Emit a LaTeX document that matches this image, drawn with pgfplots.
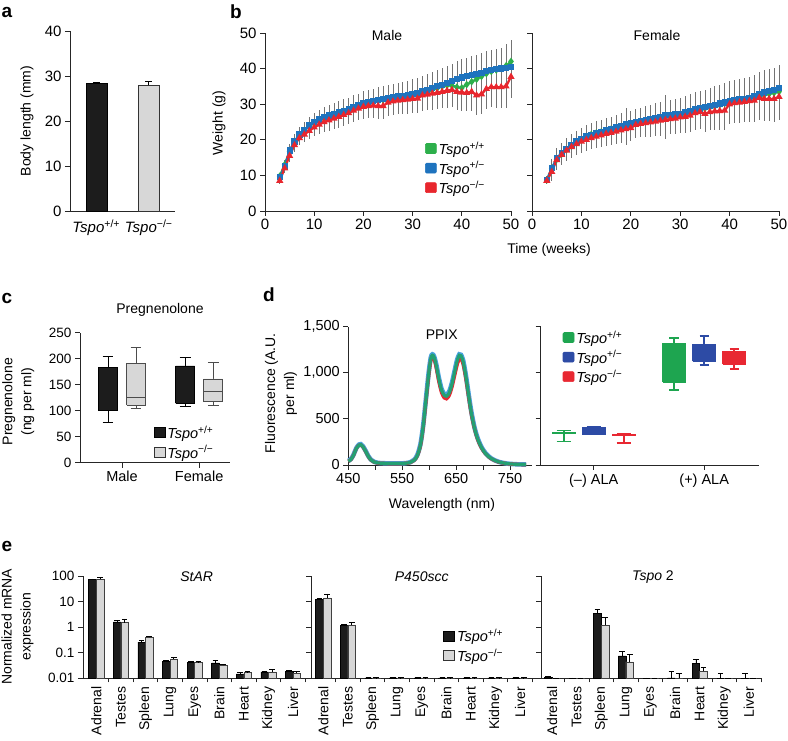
\documentclass[border=0pt]{standalone}
\usepackage{fontspec}
\setmainfont{Liberation Sans}
\usepackage{pgfplots}
\pgfplotsset{compat=1.18}
\usepackage{pgfplotstable}

\definecolor{gM}{RGB}{45,175,75}
\definecolor{bM}{RGB}{30,115,190}
\definecolor{rM}{RGB}{232,38,45}
\definecolor{gD}{RGB}{30,165,80}
\definecolor{bD}{RGB}{45,75,165}
\definecolor{rD}{RGB}{232,40,50}
\definecolor{specT}{RGB}{35,160,115}
\definecolor{specB}{RGB}{70,160,220}
\definecolor{lgray}{RGB}{215,215,215}
\definecolor{dblack}{RGB}{28,28,28}

\pgfplotstableread{
w  g     b     r     e
3  9.8   9.5   8.5   1.0
4  13.0  12.5  12.0  1.3
5  16.8  17.0  15.5  1.8
6  19.5  19.5  18.5  2.0
7  21.3  21.5  20.5  2.0
8  22.6  22.8  21.5  2.2
9  23.8  24.0  22.5  2.4
10 24.7  25.0  23.5  2.5
11 25.4  25.7  24.3  2.6
12 26.0  26.3  25.0  2.8
13 26.6  26.8  25.5  2.9
14 27.1  27.3  26.0  3.0
15 27.6  27.8  26.5  3.1
16 28.0  28.2  27.0  3.2
17 28.5  28.6  27.5  3.2
18 29.0  29.2  28.2  3.3
19 29.5  29.7  28.8  3.3
20 30.0  30.2  29.3  3.4
21 30.3  30.6  29.5  3.5
22 30.6  30.9  29.6  3.5
23 30.9  31.2  29.5  3.6
24 31.2  31.5  29.5  3.6
25 31.4  31.8  30.5  3.7
26 31.6  32.0  30.8  3.8
27 31.8  32.2  31.0  3.8
28 32.0  32.4  31.2  3.9
29 32.2  32.6  31.3  4.0
30 32.4  32.9  31.5  4.1
31 32.7  33.2  31.6  4.2
32 33.1  33.6  32.5  4.3
33 33.5  34.0  32.7  4.4
34 34.0  34.5  33.0  4.5
35 34.5  35.0  33.2  4.6
36 35.0  35.5  33.5  4.7
37 35.3  36.0  33.8  4.8
38 35.2  36.5  34.0  4.9
39 34.8  37.0  33.5  5.0
40 34.6  37.5  33.3  5.1
41 35.5  37.9  33.2  5.2
42 36.3  38.2  33.5  5.3
43 37.0  38.5  32.5  5.4
44 37.8  38.8  32.8  5.5
45 38.6  39.3  34.3  5.6
46 39.2  39.6  34.8  5.7
47 39.6  39.8  34.8  5.8
48 40.0  40.0  34.8  5.9
49 40.8  40.2  35.0  6.0
50 42.0  40.4  37.7  6.0
}\maleT

\pgfplotstableread{
w  g     b     r     e
3  8.7   8.7   8.5   1.0
4  12.0  12.0  11.0  2.5
5  14.5  14.8  14.3  2.8
6  16.0  16.3  15.8  2.9
7  17.3  17.5  17.0  3.0
8  18.3  18.5  18.0  3.0
9  19.2  19.5  18.8  3.1
10 20.0  20.3  19.5  3.1
11 20.7  20.9  20.0  3.2
12 21.5  21.4  20.5  3.2
13 21.9  21.8  20.9  3.3
14 22.2  22.2  21.3  3.3
15 22.6  22.7  21.7  3.4
16 23.0  23.1  22.0  3.4
17 23.3  23.5  22.3  3.5
18 23.7  23.9  22.7  3.5
19 24.0  24.3  23.0  4.5
20 24.3  24.6  23.3  3.6
21 24.6  24.9  24.2  3.7
22 24.9  25.2  24.5  3.8
23 25.2  25.5  24.7  3.9
24 25.5  25.8  24.9  4.0
25 25.8  26.1  25.1  4.1
26 26.0  26.4  25.4  4.2
27 26.3  27.0  25.6  5.5
28 26.5  27.0  25.8  4.3
29 26.8  27.1  26.0  4.4
30 27.0  27.3  26.3  4.5
31 27.3  27.7  26.5  4.6
32 27.6  28.2  26.8  4.7
33 28.0  28.5  27.5  4.8
34 28.5  28.8  27.8  4.9
35 28.8  29.1  27.3  5.0
36 29.1  29.5  27.8  5.1
37 29.4  29.8  28.0  5.2
38 29.8  30.2  28.1  5.3
39 30.2  30.5  28.2  5.4
40 30.6  30.9  30.0  5.5
41 30.9  31.1  30.3  5.6
42 31.1  31.3  30.5  5.7
43 31.3  31.5  30.7  5.8
44 31.5  31.8  30.9  5.9
45 31.8  32.3  31.0  6.0
46 32.2  32.9  31.8  6.1
47 32.6  33.3  31.5  6.2
48 32.9  33.6  31.5  6.3
49 33.2  33.9  31.5  6.4
50 33.5  34.5  32.1  6.5
}\femaleT

\newcommand{\tpp}{\textit{Tspo}\textsuperscript{+/+}}
\newcommand{\tpm}{\textit{Tspo}\textsuperscript{+/−}}
\newcommand{\tmm}{\textit{Tspo}\textsuperscript{−/−}}

% box with whiskers: #1 fill, #2 draw, #3 position, #4 half box width, #5 half cap width,
% #6 lower whisker, #7 lower quartile, #8 upper quartile, #9 upper whisker
\newcommand{\bxp}[9]{%
 \pgfmathsetmacro\bxa{#3-#4}\pgfmathsetmacro\bxb{#3+#4}%
 \pgfmathsetmacro\cxa{#3-#5}\pgfmathsetmacro\cxb{#3+#5}%
 \edef\tmp{%
 \noexpand\addplot[forget plot, draw=#2, line width=\noexpand\wlw] coordinates {(#3,#6)(#3,#9)};
 \noexpand\addplot[forget plot, draw=#2, line width=\noexpand\wlw] coordinates {(\cxa,#6)(\cxb,#6)};
 \noexpand\addplot[forget plot, draw=#2, line width=\noexpand\wlw] coordinates {(\cxa,#9)(\cxb,#9)};
 \noexpand\addplot[forget plot, fill=#1, draw=#2, line width=\noexpand\blw] coordinates {(\bxa,#7)(\bxb,#7)(\bxb,#8)(\bxa,#8)(\bxa,#7)};
 }\tmp}
% median line: #1 draw, #2 pos, #3 half width, #4 value
\newcommand{\medl}[4]{%
 \pgfmathsetmacro\bxa{#2-#3}\pgfmathsetmacro\bxb{#2+#3}%
 \edef\tmp{\noexpand\addplot[forget plot, draw=#1, line width=\noexpand\blw] coordinates {(\bxa,#4)(\bxb,#4)};}\tmp}

\pgfplotsset{
  every axis/.append style={
    scale only axis, anchor=south west, clip=false,
    axis lines*=left, axis line style={-, line width=0.9pt, black!85},
    tick style={line width=0.9pt, black!85}, tick align=outside,
    major tick length=5pt, minor tick length=4pt,
    tick label style={font=\fontsize{14}{16}\selectfont},
    /pgf/number format/assume math mode=true,
    legend cell align=left,
  },
  sqleg/.style={legend image code/.code={\draw[##1,line width=0.6pt] (0pt,-4.5pt) rectangle (11pt,5.5pt);}},
  legst/.style={legend style={at={#1}, anchor=north west, draw=none, fill=none, inner sep=0pt, row sep=1.5pt, font=\fontsize{14.5}{16}\selectfont}},
  wline/.style={forget plot, line width=2.2pt, mark size=2pt,
     error bars/y dir=both, error bars/y explicit, error bars/error mark=none,
     error bars/error bar style={line width=0.65pt, black!55}},
  eblk/.style={forget plot, bar shift=-3.8pt, fill=dblack, draw=black, line width=0.5pt,
    error bars/y dir=plus, error bars/y explicit, error bars/error bar style={line width=0.8pt,black},
    error bars/error mark options={rotate=90, mark size=2.8pt, line width=0.8pt}},
  egry/.style={forget plot, bar shift=3.8pt, fill=lgray, draw=black!75, line width=0.5pt,
    error bars/y dir=plus, error bars/y explicit, error bars/error bar style={line width=0.8pt,black},
    error bars/error mark options={rotate=90, mark size=2.8pt, line width=0.8pt}},
}

\begin{document}
\begin{tikzpicture}
\useasboundingbox (0pt,0pt) rectangle (788pt,741pt);
\tikzset{lab/.style={font=\fontsize{14}{19}\selectfont, align=center}, pl/.style={font=\fontsize{19}{19}\selectfont\bfseries}}

% ---------- a ----------
\begin{axis}[at={(70pt,530pt)}, width=105pt, height=180pt,
  xmin=0.5, xmax=2.5, ymin=0, ymax=40, ytick={0,10,20,30,40},
  xtick={1,2}, xticklabels={\tpp,\tmm}, x tick style={draw=none},
  tick label style={font=\fontsize{15}{17}\selectfont}, ybar, bar width=21pt]
\addplot[bar shift=0pt, fill=dblack, draw=black, error bars/y dir=plus, error bars/y explicit,
  error bars/error bar style={line width=0.9pt,black}, error bars/error mark options={rotate=90,mark size=3.5pt,line width=0.9pt}]
  coordinates {(1,28.3) +- (0,0.35)};
\addplot[bar shift=0pt, fill=lgray, draw=black!80, line width=0.8pt, error bars/y dir=plus, error bars/y explicit,
  error bars/error bar style={line width=0.9pt,black}, error bars/error mark options={rotate=90,mark size=3.5pt,line width=0.9pt}]
  coordinates {(2,27.9) +- (0,0.8)};
\end{axis}

% ---------- b male ----------
\begin{axis}[at={(265pt,530pt)}, width=246pt, height=178pt,
  xmin=0, xmax=50, ymin=0, ymax=50, xtick={0,10,...,50}, ytick={0,10,...,50},
  tick label style={font=\fontsize{15}{17}\selectfont},
  sqleg, legst={(0.65,0.40)}]
\addplot[wline, color=gM, mark=diamond*] table[x=w,y=g,y error=e] {\maleT};
\addplot[wline, color=bM, mark=square*] table[x=w,y=b,y error=e] {\maleT};
\addplot[wline, color=rM, mark=triangle*] table[x=w,y=r,y error=e] {\maleT};
\addlegendimage{fill=gM, draw=gM, rounded corners=1.2pt}\addlegendentry{\tpp}
\addlegendimage{fill=bM, draw=bM, rounded corners=1.2pt}\addlegendentry{\tpm}
\addlegendimage{fill=rM, draw=rM, rounded corners=1.2pt}\addlegendentry{\tmm}
\end{axis}

% ---------- b female ----------
\begin{axis}[at={(532pt,530pt)}, width=247pt, height=178pt,
  xmin=0, xmax=50, ymin=0, ymax=50, xtick={0,10,...,50}, ytick={0,10,...,50}, yticklabels={},
  tick label style={font=\fontsize{15}{17}\selectfont}]
\addplot[wline, color=gM, mark=diamond*] table[x=w,y=g,y error=e] {\femaleT};
\addplot[wline, color=bM, mark=square*] table[x=w,y=b,y error=e] {\femaleT};
\addplot[wline, color=rM, mark=triangle*] table[x=w,y=r,y error=e] {\femaleT};
\end{axis}

% ---------- c ----------
\begin{axis}[at={(80pt,278.3pt)}, width=150pt, height=130pt,
  xmin=0.455, xmax=2.40, ymin=0, ymax=250, ytick={0,50,...,250},
  xtick={1,2}, xticklabels={Male,Female},
  tick label style={font=\fontsize{13.5}{15}\selectfont},
  x tick label style={font=\fontsize{14.5}{16}\selectfont},
  sqleg, legst={(0.49,0.30)}]
\def\wlw{0.9pt}\def\blw{0.8pt}
\bxp{dblack}{black}{0.818}{0.1235}{0.07}{77.6}{100}{183}{204}
\bxp{lgray}{black!70}{1.182}{0.1235}{0.07}{104}{111}{191}{222}
\medl{black!70}{1.182}{0.1235}{126}
\bxp{dblack}{black}{1.818}{0.1235}{0.07}{108}{114}{186}{202}
\bxp{lgray}{black!70}{2.182}{0.1235}{0.07}{111}{117}{161}{192}
\medl{black!70}{2.182}{0.1235}{137}
\addlegendimage{fill=dblack, draw=black}\addlegendentry{\tpp}
\addlegendimage{fill=lgray, draw=black!80}\addlegendentry{\tmm}
\end{axis}

% ---------- d spectrum ----------
\begin{axis}[at={(348.3pt,276pt)}, width=183.3pt, height=138.3pt,
  xmin=450, xmax=790, ymin=0, ymax=1500,
  xtick={450,500,...,750}, xticklabels={450,,550,,650,,750},
  ytick={0,500,1000,1500}, yticklabels={0,500,{1,000},{1,500}},
  tick label style={font=\fontsize{14.5}{16}\selectfont}]
\addplot[forget plot, smooth, specB, line width=4.6pt] coordinates {
(450,45)(455,65)(460,115)(465,185)(470,222)(473,226)(477,205)(482,155)(487,98)(492,58)(498,34)(505,23)(520,18)(540,17)(555,19)(565,30)(572,55)(578,108)(584,230)(589,435)(594,715)(599,995)(603,1165)(606,1200)(609,1180)(613,1095)(618,945)(623,825)(628,770)(632,760)(637,795)(642,885)(647,1015)(652,1145)(656,1200)(659,1195)(663,1135)(668,975)(673,775)(678,585)(684,410)(690,290)(697,195)(705,125)(715,72)(728,36)(745,15)(765,7)(780,5)};
\addplot[forget plot, smooth, rD, line width=3.4pt] coordinates {
(450,40)(455,60)(460,110)(465,180)(470,214)(473,218)(477,198)(482,148)(487,94)(492,54)(498,31)(505,21)(520,16)(540,15)(555,17)(565,27)(572,49)(578,98)(584,215)(589,410)(594,690)(599,965)(603,1135)(606,1175)(609,1155)(613,1060)(618,905)(623,785)(628,728)(632,718)(637,752)(642,840)(647,965)(652,1090)(656,1150)(659,1148)(663,1095)(668,940)(673,745)(678,560)(684,395)(690,275)(697,185)(705,118)(715,68)(728,34)(745,14)(765,6)(780,4)};
\addplot[forget plot, smooth, specT, line width=3.2pt] coordinates {
(450,40)(455,60)(460,110)(465,180)(470,215)(473,220)(477,200)(482,150)(487,95)(492,55)(498,32)(505,22)(520,17)(540,16)(555,18)(565,28)(572,50)(578,100)(584,220)(589,420)(594,700)(599,980)(603,1150)(606,1190)(609,1170)(613,1080)(618,930)(623,810)(628,755)(632,745)(637,780)(642,870)(647,1000)(652,1130)(656,1190)(659,1185)(663,1120)(668,960)(673,760)(678,570)(684,400)(690,280)(697,190)(705,120)(715,70)(728,35)(745,15)(765,6)(780,4)};
\end{axis}

% ---------- d boxes ----------
\begin{axis}[at={(540.7pt,276pt)}, width=218.3pt, height=138.3pt,
  xmin=0.52, xmax=2.496, ymin=0, ymax=1500,
  ytick={0,500,1000,1500}, yticklabels={},
  xtick={1,2}, xticklabels={(–) ALA,(+) ALA},
  x tick label style={font=\fontsize{14.5}{16}\selectfont},
  sqleg, legst={(0.10,0.985)}]
\def\wlw{1.8pt}\def\blw{1.2pt}
\bxp{gD}{gD}{0.728}{0.104}{0.065}{254}{340}{352}{374}
\bxp{bD}{bD}{1}{0.104}{0.065}{332}{336}{405}{408}
\bxp{rD}{rD}{1.272}{0.104}{0.065}{236}{326}{334}{336}
\bxp{gD}{gD}{1.728}{0.104}{0.0425}{817}{901}{1318}{1380}
\bxp{bD}{bD}{2}{0.104}{0.0425}{1086}{1126}{1307}{1398}
\bxp{rD}{rD}{2.272}{0.104}{0.0425}{1042}{1093}{1231}{1260}
\addlegendimage{fill=gD, draw=gD, rounded corners=1.2pt}\addlegendentry{\tpp}
\addlegendimage{fill=bD, draw=bD, rounded corners=1.2pt}\addlegendentry{\tpm}
\addlegendimage{fill=rD, draw=rD, rounded corners=1.2pt}\addlegendentry{\tmm}
\end{axis}

% ---------- e ----------
\begin{axis}[at={(83pt,62.7pt)}, width=228pt, height=102.3pt, xmin=0.46, xmax=9.728,
    ymode=log, log origin y=infty, ymin=0.01, ymax=100, ytick={0.01,0.1,1,10,100},
    yticklabels={0.01,0.1,1,10,100}, minor y tick style={draw=none},
    tick label style={font=\fontsize{13.5}{15}\selectfont},
    xtick={1,...,9}, xticklabels={Adrenal,Testes,Spleen,Lung,Eyes,Brain,Heart,Kidney,Liver},
    major x tick style={draw=none}, minor xtick={1.5,2.5,...,9.5},
    x tick label style={rotate=90, anchor=east, font=\fontsize{14}{16}\selectfont},
    ybar, bar width=7.6pt]
\addplot[eblk] coordinates {(1,73)+-(0,4) (2,1.62)+-(0,0.15) (3,0.26)+-(0,0.03) (4,0.047)+-(0,0.003) (5,0.041)+-(0,0.003) (6,0.040)+-(0,0.008) (7,0.015)+-(0,0.002) (8,0.018)+-(0,0.001) (9,0.019)+-(0,0.002)};
\addplot[egry] coordinates {(1,76)+-(0,15) (2,1.5)+-(0,0.6) (3,0.40)+-(0,0.04) (4,0.058)+-(0,0.006) (5,0.042)+-(0,0.003) (6,0.032)+-(0,0.004) (7,0.017)+-(0,0.001) (8,0.018)+-(0,0.004) (9,0.016)+-(0,0.003)};
\end{axis}

\begin{axis}[at={(311pt,62.7pt)}, width=230pt, height=102.3pt, xmin=0.5, xmax=9.85,
    ymode=log, log origin y=infty, ymin=0.01, ymax=100, ytick={0.01,0.1,1,10,100},
    yticklabels={}, minor y tick style={draw=none},
    xtick={1,...,9}, xticklabels={Adrenal,Testes,Spleen,Lung,Eyes,Brain,Heart,Kidney,Liver},
    major x tick style={draw=none}, minor xtick={1.5,2.5,...,9.5},
    x tick label style={rotate=90, anchor=east, font=\fontsize{14}{16}\selectfont},
    ybar, bar width=7.6pt, sqleg, legst={(0.575,0.50)}]
\addplot[eblk] coordinates {(1,12.3)+-(0,1.0) (2,1.15)+-(0,0.08) (3,0.0105)+-(0,0.0001) (4,0.0105)+-(0,0.0001) (5,0.0105)+-(0,0.0001) (6,0.0105)+-(0,0.0001) (7,0.0105)+-(0,0.0001) (8,0.0105)+-(0,0.0001) (9,0.0105)+-(0,0.0001)};
\addplot[egry] coordinates {(1,13.8)+-(0,6) (2,1.22)+-(0,0.35) (3,0.0104)+-(0,0.0001) (4,0.0104)+-(0,0.0001) (5,0.0104)+-(0,0.0001) (6,0.0104)+-(0,0.0001) (7,0.0104)+-(0,0.0001) (8,0.0104)+-(0,0.0001) (9,0.0104)+-(0,0.0001)};
\addlegendimage{fill=dblack, draw=black}\addlegendentry{\tpp}
\addlegendimage{fill=lgray, draw=black!80}\addlegendentry{\tmm}
\end{axis}

\begin{axis}[at={(541pt,62.7pt)}, width=221pt, height=102.3pt, xmin=0.55, xmax=9.53,
    ymode=log, log origin y=infty, ymin=0.01, ymax=100, ytick={0.01,0.1,1,10,100},
    yticklabels={}, minor y tick style={draw=none},
    xtick={1,...,9}, xticklabels={Adrenal,Testes,Spleen,Lung,Eyes,Brain,Heart,Kidney,Liver},
    major x tick style={draw=none}, minor xtick={1.5,2.5,...,9.5},
    x tick label style={rotate=90, anchor=east, font=\fontsize{14}{16}\selectfont},
    ybar, bar width=7.6pt]
\addplot[eblk] coordinates {(1,0.0108)+-(0,0.0015) (2,0.0102)+-(0,0.0001) (3,3.5)+-(0,1.5) (4,0.076)+-(0,0.036) (5,0.0102)+-(0,0.0001) (6,0.0105)+-(0,0.0075) (7,0.039)+-(0,0.014) (8,0.0102)+-(0,0.0055) (9,0.0102)+-(0,0.0055)};
\addplot[egry] coordinates {(1,0.0102)+-(0,0.0001) (2,0.0102)+-(0,0.0001) (3,1.2)+-(0,1.15) (4,0.044)+-(0,0.044) (5,0.0102)+-(0,0.0001) (6,0.0102)+-(0,0.0055) (7,0.019)+-(0,0.007) (8,0.0102)+-(0,0.0001) (9,0.0102)+-(0,0.0001)};
\end{axis}

% ---------- text ----------
\node[pl] at (7pt,728.5pt) {a};
\node[pl] at (236pt,729pt) {b};
\node[pl] at (7pt,443pt) {c};
\node[pl] at (269pt,446pt) {d};
\node[pl] at (7pt,195pt) {e};
\node[lab, rotate=90] at (27pt,620pt) {Body length (mm)};
\node[lab, rotate=90] at (219pt,618pt) {Weight (g)};
\node[lab] at (387pt,705pt) {Male};
\node[lab] at (657pt,705pt) {Female};
\node[lab] at (549pt,491pt) {Time (weeks)};
\node[lab, rotate=90] at (18.3pt,339.3pt) {Pregnenolone\\(ng per ml)};
\node[lab] at (160pt,431pt) {Pregnenolone};
\node[lab, rotate=90] at (281pt,347.7pt) {Fluorescence (A.U.\\per ml)};
\node[lab] at (441.7pt,406pt) {PPIX};
\node[lab] at (442pt,236pt) {Wavelength (nm)};
\node[lab, rotate=90] at (17.5pt,114.3pt) {Normalized mRNA\\expression};
\node[lab] at (196.7pt,164.3pt) {\textit{StAR}};
\node[lab] at (421.7pt,164.3pt) {\textit{P450scc}};
\node[lab] at (653pt,164.3pt) {\textit{Tspo} 2};
\end{tikzpicture}
\end{document}
